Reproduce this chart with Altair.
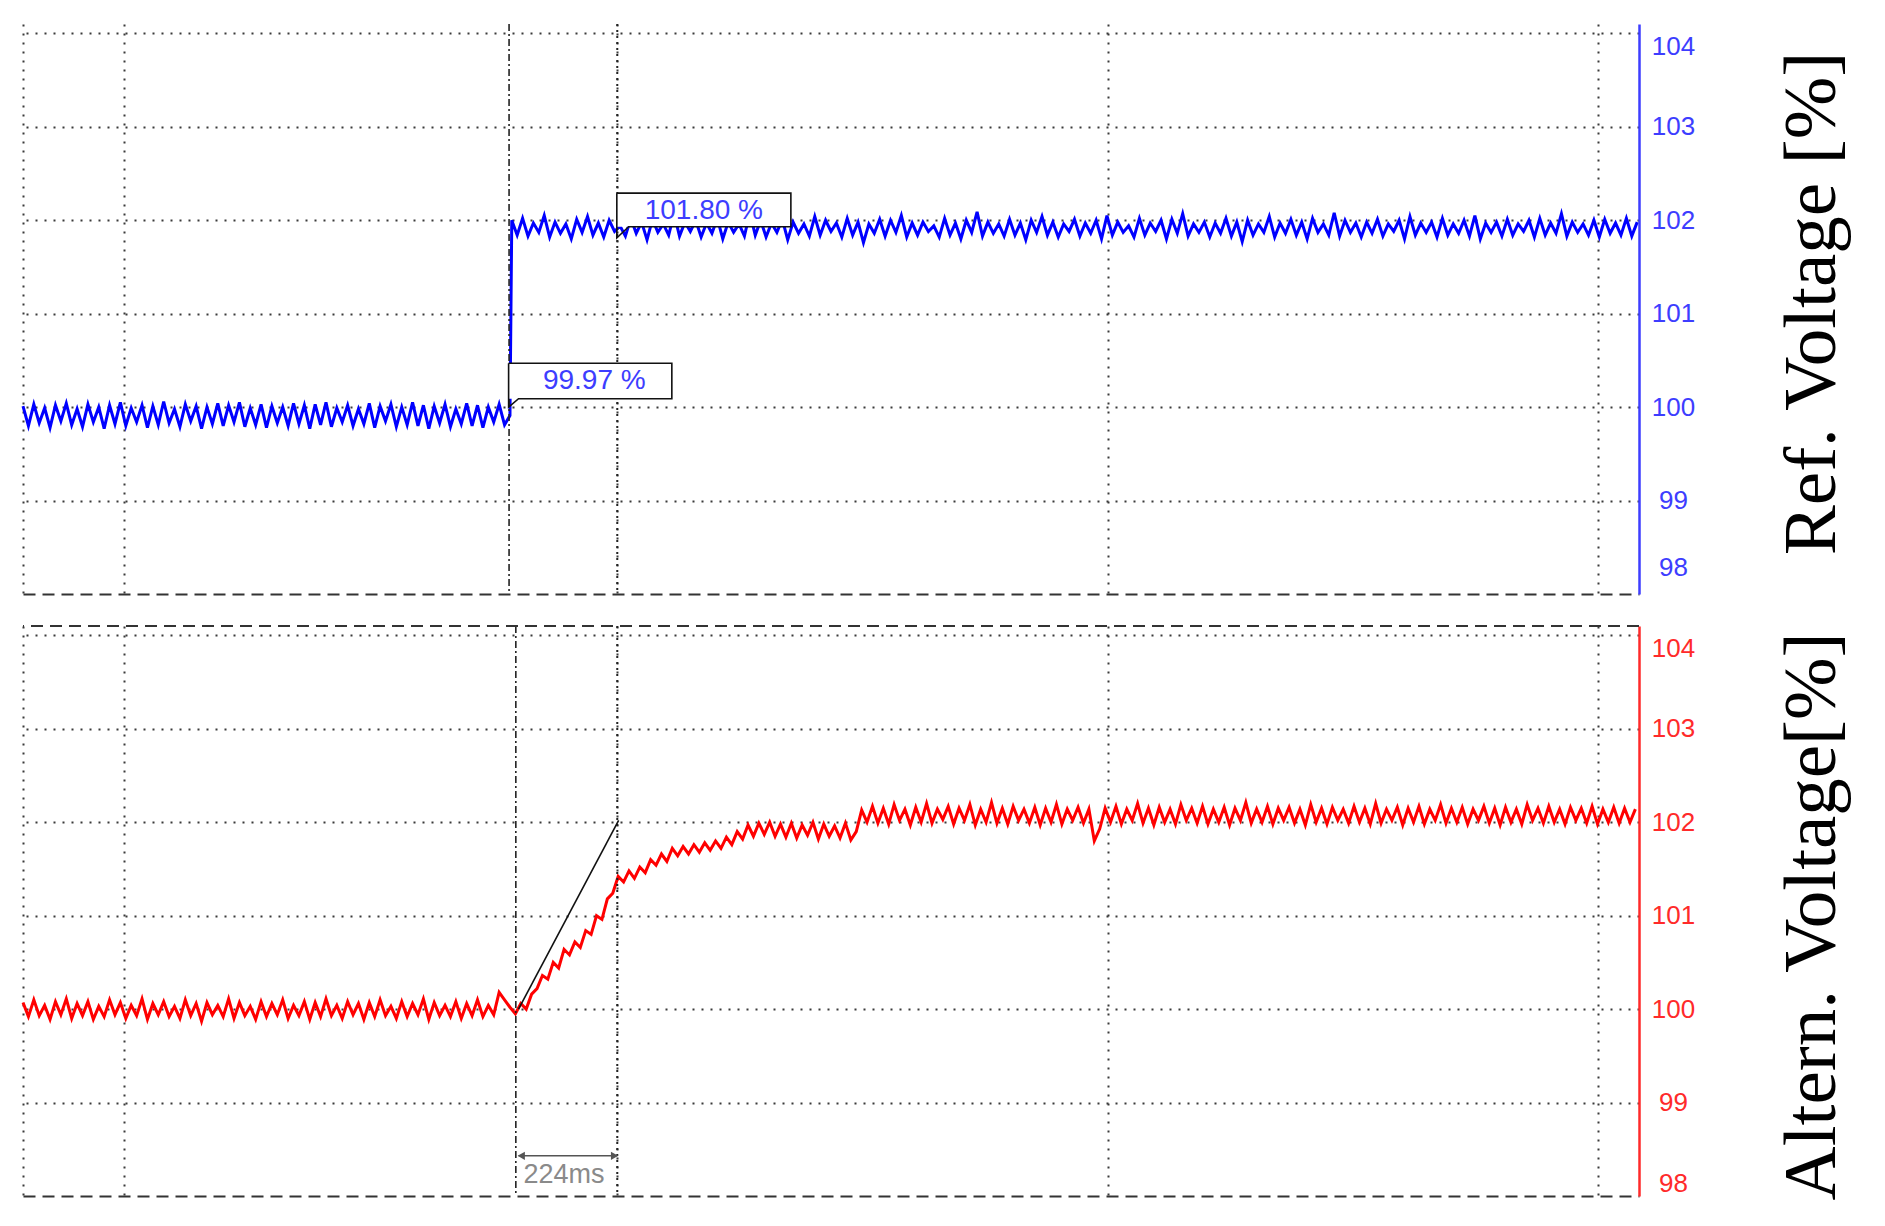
import altair as alt
import pandas as pd

SAMPLE_MS = 12          # sampling step of the recorded traces (ms)
BLUE_STEP_MS = 1084     # first sample after the reference step

# ---------------- top panel: reference voltage [%] ----------------
blue_before = [
    100.01, 99.80, 100.03, 99.83, 99.99, 99.78, 100.02, 99.85, 100.04, 99.81,
    99.98, 99.79, 100.03, 99.84, 100.00, 99.77, 100.02, 99.82, 100.05, 99.80,
    99.99, 99.84, 100.02, 99.78, 100.01, 99.81, 100.06, 99.83, 99.98, 99.79,
    100.03, 99.85, 100.01, 99.77, 100.00, 99.82, 100.04, 99.80, 100.02, 99.84,
    100.05, 99.79, 99.99, 99.81, 100.03, 99.78, 100.01, 99.83, 100.00, 99.80,
    100.04, 99.82, 100.02, 99.77, 100.03, 99.81, 100.05, 99.79, 99.99, 99.84,
    100.02, 99.80, 99.98, 99.82, 100.04, 99.78, 100.01, 99.85, 100.03, 99.79,
    100.00, 99.81, 100.05, 99.80, 100.02, 99.77, 100.01, 99.83, 100.03, 99.79,
    99.98, 99.82, 100.04, 99.80, 100.02, 99.78, 100.00, 99.84, 100.03, 99.81,
    99.91,
]
blue_after = [
    102.00, 101.84, 102.02, 101.83, 101.97, 101.87, 102.05, 101.82, 101.98, 101.86,
    101.96, 101.80, 102.01, 101.87, 102.04, 101.84, 101.97, 101.82, 102.00, 101.88,
    101.94, 101.83, 102.02, 101.86, 101.98, 101.79, 102.01, 101.87, 101.96, 101.84,
    102.07, 101.83, 101.98, 101.88, 102.00, 101.82, 101.97, 101.86, 102.02, 101.80,
    101.98, 101.87, 101.96, 101.83, 102.08, 101.84, 102.00, 101.82, 101.97, 101.87,
    102.01, 101.79, 101.98, 101.86, 101.96, 101.83, 102.04, 101.84, 102.00, 101.88,
    101.97, 101.82, 102.02, 101.84, 101.98, 101.76, 101.96, 101.86, 102.01, 101.83,
    102.00, 101.87, 102.05, 101.82, 101.97, 101.84, 101.98, 101.88, 101.94, 101.82,
    102.02, 101.84, 101.97, 101.80, 102.00, 101.87, 102.09, 101.83, 101.98, 101.86,
    101.96, 101.83, 102.01, 101.84, 101.97, 101.79, 102.00, 101.87, 102.04, 101.84,
    101.98, 101.82, 101.96, 101.88, 102.01, 101.83, 101.97, 101.86, 102.00, 101.80,
    102.05, 101.84, 101.98, 101.87, 101.94, 101.82, 102.02, 101.84, 101.97, 101.88,
    102.00, 101.80, 102.01, 101.86, 102.07, 101.83, 101.96, 101.87, 101.98, 101.82,
    101.97, 101.86, 102.02, 101.83, 101.98, 101.77, 102.00, 101.84, 101.96, 101.87,
    102.04, 101.82, 101.97, 101.86, 102.01, 101.84, 101.98, 101.80, 102.02, 101.87,
    101.96, 101.84, 102.08, 101.83, 102.00, 101.87, 101.97, 101.82, 101.98, 101.86,
    102.01, 101.83, 101.96, 101.88, 102.00, 101.80, 102.04, 101.84, 101.97, 101.87,
    101.98, 101.82, 102.02, 101.84, 101.96, 101.86, 102.00, 101.83, 102.05, 101.80,
    101.97, 101.87, 101.98, 101.83, 102.01, 101.84, 101.96, 101.88, 102.00, 101.82,
    102.02, 101.84, 101.97, 101.86, 102.07, 101.83, 101.98, 101.87, 101.96, 101.84,
    102.00, 101.82, 102.01, 101.86, 101.97, 101.84, 102.02, 101.83, 101.98,
]

# ---------------- bottom panel: alternator voltage [%] ----------------
red_before = [
    100.07, 99.92, 100.10, 99.93, 100.04, 99.89, 100.08, 99.94, 100.11, 99.90,
    100.06, 99.93, 100.08, 99.89, 100.03, 99.92, 100.10, 99.94, 100.07, 99.90,
    100.04, 99.93, 100.11, 99.89, 100.06, 99.94, 100.08, 99.92, 100.03, 99.90,
    100.10, 99.93, 100.06, 99.87, 100.07, 99.94, 100.04, 99.92, 100.11, 99.90,
    100.07, 99.93, 100.03, 99.89, 100.08, 99.92, 100.06, 99.94, 100.10, 99.90,
    100.04, 99.93, 100.08, 99.89, 100.07, 99.92, 100.11, 99.93, 100.04, 99.90,
    100.08, 99.94, 100.06, 99.89, 100.07, 99.92, 100.10, 99.93, 100.03, 99.90,
    100.08, 99.92, 100.06, 99.94, 100.11, 99.89, 100.07, 99.93, 100.04, 99.92,
    100.08, 99.90, 100.06, 99.93, 100.10, 99.92, 100.04, 99.94,
]
red_bump = [100.18, 100.10, 100.02, 99.95]
red_rise = [
    100.06, 100.00, 100.16, 100.22, 100.36, 100.32, 100.50, 100.44, 100.64, 100.58,
    100.72, 100.66, 100.84, 100.80, 101.00, 100.96, 101.18, 101.24, 101.42, 101.36,
    101.48, 101.40, 101.52, 101.46, 101.60, 101.54, 101.66, 101.58, 101.72, 101.64,
    101.74, 101.66, 101.76, 101.68, 101.78, 101.70, 101.80, 101.72, 101.84, 101.76,
    101.90, 101.82, 101.97, 101.85, 101.99, 101.87, 102.00, 101.85, 101.98, 101.84,
    101.99, 101.83, 101.97, 101.86, 102.00, 101.82, 101.98, 101.85, 101.96, 101.83,
    101.99, 101.81, 101.90, 102.13,
]
red_after = [
    102.00, 102.17, 101.99, 102.15, 101.98, 102.19, 102.02, 102.14, 101.97, 102.16,
    102.00, 102.20, 101.99, 102.14, 102.03, 102.17, 101.98, 102.15, 102.02, 102.19,
    101.97, 102.14, 102.00, 102.21, 101.99, 102.15, 101.98, 102.17, 102.02, 102.14,
    101.99, 102.16, 101.97, 102.15, 102.00, 102.19, 101.98, 102.14, 102.02, 102.16,
    101.99, 102.14, 101.80, 101.93, 102.15, 102.00, 102.17, 101.98, 102.14, 102.02,
    102.20, 101.99, 102.15, 101.97, 102.16, 102.00, 102.14, 101.98, 102.19, 102.02,
    102.15, 101.99, 102.17, 101.98, 102.14, 102.00, 102.16, 101.97, 102.15, 102.02,
    102.21, 101.99, 102.14, 102.00, 102.17, 101.98, 102.15, 102.02, 102.16, 101.99,
    102.14, 101.97, 102.19, 102.00, 102.15, 101.98, 102.16, 102.02, 102.14, 101.99,
    102.17, 102.00, 102.15, 101.98, 102.20, 101.99, 102.14, 102.02, 102.16, 101.97,
    102.15, 102.00, 102.17, 101.98, 102.14, 102.02, 102.19, 101.99, 102.15, 102.00,
    102.16, 101.98, 102.14, 102.02, 102.17, 101.99, 102.15, 101.97, 102.16, 102.00,
    102.14, 101.98, 102.19, 102.02, 102.15, 101.99, 102.17, 102.00, 102.14, 101.98,
    102.16, 102.02, 102.15, 101.99, 102.17, 101.98, 102.14, 102.00, 102.16, 101.99,
    102.15, 102.00, 102.14,
]

# ---------------- axes / markers ----------------
x_domain = [0, 3584]
x_grid_ms = [0, 224, 1318, 2406, 3494]
y_domain = [98, 104.1]
y_ticks = [98, 99, 100, 101, 102, 103, 104]

top_event_ms = 1078
bottom_event_ms = 1093
cursor_ms = 1318

# value callouts (top panel)
box_labels = ["99.97 %", "101.80 %"]
box_t0 = [1077, 1317]
box_t1 = [1439, 1703]
box_v_bottom = [100.09, 101.93]
box_v_top = [100.47, 102.29]
box_pointer_v = [100.00, 101.81]
box_pointer_dt = [22, 26]
box_text_t = [1267, 1510]
box_text_v = [100.28, 102.10]

# response-time marker (bottom panel)
slope_t = [1099, 1321]
slope_v = [100.0, 102.02]
span_t = [1099, 1318]
span_v = 98.43
span_label = "224ms"
span_label_t = 1200
span_label_v = 98.22

BLUE = "#0000ff"
RED = "#ff0000"
BLUE_TXT = "#3d3dff"
RED_TXT = "#ff2a2a"
GRID = "#3a3a3a"

# ---------------- data frames ----------------
top_df = pd.DataFrame({
    "t": [i * SAMPLE_MS for i in range(len(blue_before))]
         + [BLUE_STEP_MS + i * SAMPLE_MS for i in range(len(blue_after))],
    "v": blue_before + blue_after,
})
red_all = red_before + red_bump + red_rise + red_after
bot_df = pd.DataFrame({"t": [i * SAMPLE_MS for i in range(len(red_all))], "v": red_all})

rect_df = pd.DataFrame({"t": box_t0, "t2": box_t1, "v": box_v_bottom, "v2": box_v_top})
outline_rows = []
for i in range(len(box_labels)):
    pts = [
        (box_t0[i], box_v_top[i]),
        (box_t1[i], box_v_top[i]),
        (box_t1[i], box_v_bottom[i]),
        (box_t0[i] + box_pointer_dt[i], box_v_bottom[i]),
        (box_t0[i], box_pointer_v[i]),
        (box_t0[i], box_v_top[i]),
    ]
    for k, (t, v) in enumerate(pts):
        outline_rows.append({"box": i, "o": k, "t": t, "v": v})
outline_df = pd.DataFrame(outline_rows)
box_text_df = pd.DataFrame({"t": box_text_t, "v": box_text_v, "label": box_labels})


def encs(color, title, title_y, low_label_shift):
    xs = alt.Scale(domain=x_domain, nice=False, zero=False)
    ys = alt.Scale(domain=y_domain, nice=False, zero=False)
    xa = alt.Axis(values=x_grid_ms, grid=True, gridDash=[2, 7], gridColor=GRID, gridWidth=2,
                  labels=False, ticks=False, domain=True, domainDash=[12, 7],
                  domainColor="#333333", domainWidth=2, title=None)
    ya = alt.Axis(orient="right", values=y_ticks, grid=True, gridDash=[2, 7], gridColor=GRID,
                  gridWidth=2,
                  gridOpacity={"condition": {"test": "datum.value == 98", "value": 0}, "value": 1},
                  domain=True, domainColor=color, domainWidth=2.5, ticks=False,
                  labelColor=color, labelFont="Liberation Sans", labelFontSize=26,
                  labelAlign="center", labelPadding=34,
                  labelOffset={"condition": {"test": "datum.value == 98", "value": low_label_shift},
                               "value": 0},
                  labelBaseline={"expr": "datum.value == 104 ? 'top' : (datum.value == 98 ? 'bottom' : 'middle')"},
                  title=title, titleFont="Liberation Serif", titleFontSize=75,
                  titleFontWeight="normal", titleColor="black", titleAngle=270,
                  titleX=172, titleY=title_y, titleAlign="center", titleBaseline="middle")
    return (alt.X("t:Q", scale=xs, axis=xa, title=None),
            alt.Y("v:Q", scale=ys, axis=ya, title=title))


W, H = 1616, 570

# ---------------- top panel ----------------
tx, ty = encs(BLUE_TXT, "Ref. Voltage [%]", 279, -14)
top_trace = alt.Chart(top_df).mark_line(color=BLUE, strokeWidth=3).encode(x=tx, y=ty)
top_event = alt.Chart(pd.DataFrame({"t": [top_event_ms]})).mark_rule(
    color="#222222", strokeWidth=1.6, strokeDash=[7, 3, 2, 3]).encode(x=tx)
top_cursor = alt.Chart(pd.DataFrame({"t": [cursor_ms]})).mark_rule(
    color="#222222", strokeWidth=2, strokeDash=[2, 4]).encode(x=tx)
top_rect = alt.Chart(rect_df).mark_rect(color="white").encode(
    x=tx, x2="t2:Q", y=ty, y2="v2:Q")
top_outline = alt.Chart(outline_df).mark_line(color="#111111", strokeWidth=1.6).encode(
    x=tx, y=ty, detail="box:N", order="o:Q")
top_text = alt.Chart(box_text_df).mark_text(
    font="Liberation Sans", fontSize=28, color=BLUE_TXT, align="center", baseline="middle"
).encode(x=tx, y=ty, text="label:N")

top = alt.layer(top_trace, top_event, top_cursor, top_rect, top_outline, top_text).properties(
    width=W, height=H)

# ---------------- bottom panel ----------------
bx, by = encs(RED_TXT, "Altern. Voltage[%]", 290, 0)
bot_trace = alt.Chart(bot_df).mark_line(color=RED, strokeWidth=3).encode(x=bx, y=by)
bot_event = alt.Chart(pd.DataFrame({"t": [bottom_event_ms]})).mark_rule(
    color="#222222", strokeWidth=1.6, strokeDash=[7, 3, 2, 3]).encode(x=bx)
bot_cursor = alt.Chart(pd.DataFrame({"t": [cursor_ms]})).mark_rule(
    color="#222222", strokeWidth=2, strokeDash=[2, 4]).encode(x=bx)
bot_topline = alt.Chart(pd.DataFrame({"v": [y_domain[1]]})).mark_rule(
    color="#333333", strokeWidth=2, strokeDash=[12, 7]).encode(y=by)
slope = alt.Chart(pd.DataFrame({"t": slope_t, "v": slope_v})).mark_line(
    color="#111111", strokeWidth=1.6).encode(x=bx, y=by)
span = alt.Chart(pd.DataFrame({"t": [span_t[0]], "t2": [span_t[1]], "v": [span_v]})).mark_rule(
    color="#555555", strokeWidth=1.6).encode(x=bx, x2="t2:Q", y=by)
arrow_l = alt.Chart(pd.DataFrame({"t": [span_t[0] + 6], "v": [span_v]})).mark_point(
    shape="triangle-left", filled=True, color="#555555", size=70, opacity=1).encode(x=bx, y=by)
arrow_r = alt.Chart(pd.DataFrame({"t": [span_t[1] - 6], "v": [span_v]})).mark_point(
    shape="triangle-right", filled=True, color="#555555", size=70, opacity=1).encode(x=bx, y=by)
span_text = alt.Chart(pd.DataFrame({"t": [span_label_t], "v": [span_label_v], "label": [span_label]})
                      ).mark_text(font="Liberation Sans", fontSize=27, color="#8a8a8a",
                                  align="center", baseline="middle").encode(x=bx, y=by, text="label:N")

bottom = alt.layer(bot_trace, bot_event, bot_cursor, bot_topline, slope, span, arrow_l, arrow_r,
                   span_text).properties(width=W, height=H)

chart = alt.vconcat(top, bottom, spacing=30).properties(
    padding={"left": 9, "top": 15, "right": 5, "bottom": 5},
    background="white",
).configure_view(stroke=None)

chart.save("out.html", embed_options={"renderer": "svg", "actions": False})
